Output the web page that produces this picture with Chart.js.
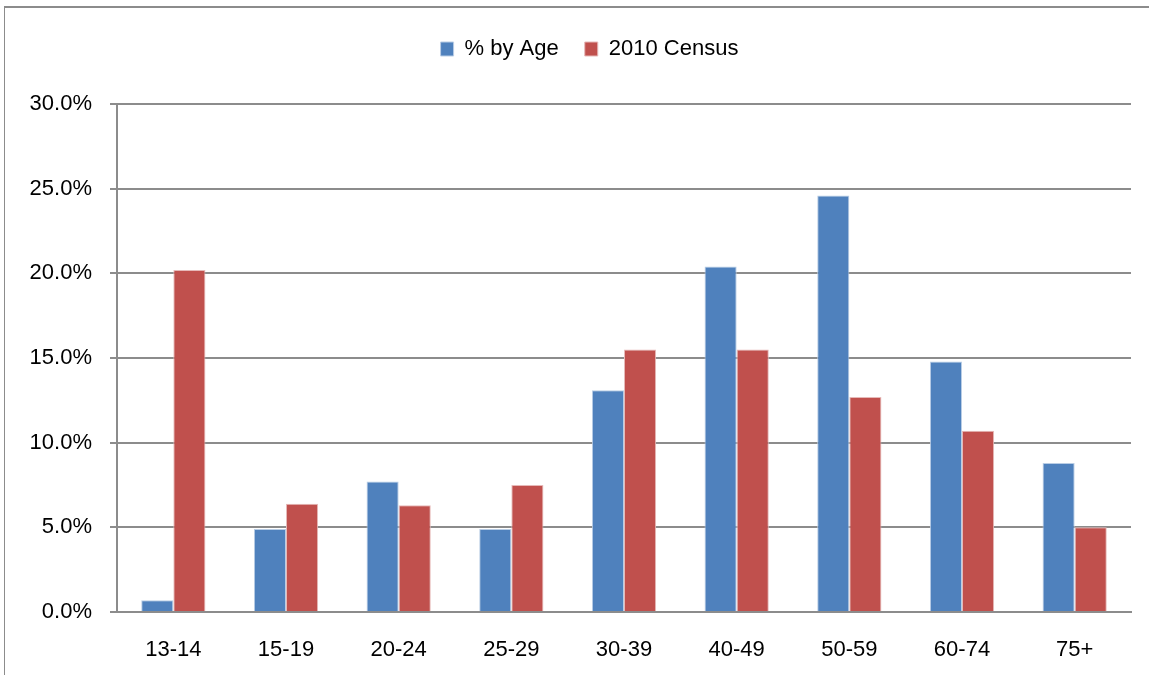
<!DOCTYPE html>
<html>
<head>
<meta charset="utf-8">
<script src="https://cdn.jsdelivr.net/npm/chart.js@4"></script>
<style>
  html, body { margin: 0; padding: 0; background: #fff; }
  #wrap { position: relative; width: 1149px; height: 675px; overflow: hidden; }
  #frame { position: absolute; left: 4px; top: 6px; width: 1200px; height: 700px;
           border-top: 2px solid #8c8c8c; border-left: 1px solid #8c8c8c; }
  canvas { position: absolute; left: 0; top: 0; }
</style>
</head>
<body>
<div id="wrap">
  <div id="frame"></div>
  <canvas id="dataChart" width="1149" height="675"></canvas>
</div>
<script>
// age groups and the two series (percent)
const ageGroups = ['13-14', '15-19', '20-24', '25-29', '30-39', '40-49', '50-59', '60-74', '75+'];
const byAge = [0.7, 4.9, 7.7, 4.9, 13.1, 20.4, 24.6, 14.8, 8.8];
const census2010 = [20.2, 6.4, 6.3, 7.5, 15.5, 15.5, 12.7, 10.7, 5.0];
const yTicks = [0, 5, 10, 15, 20, 25, 30];

const fontFamily = '"Liberation Sans", Arial, sans-serif';
const gridColor = '#8c8c8c';

const ctx = document.getElementById('dataChart').getContext('2d');
const chart = new Chart(ctx, {
  type: 'bar',
  data: {
    labels: ageGroups,
    datasets: [
      {
        label: '% by Age',
        data: byAge,
        backgroundColor: '#4f81bd',
        borderColor: '#b9cde5',
        borderWidth: 1,
        barPercentage: 1,
        categoryPercentage: 0.57
      },
      {
        label: '2010 Census',
        data: census2010,
        backgroundColor: '#c0504d',
        borderColor: '#e6b9b8',
        borderWidth: 1,
        barPercentage: 1,
        categoryPercentage: 0.57
      }
    ]
  },
  options: {
    responsive: false,
    animation: false,
    layout: { padding: { left: 0, right: 18, top: 12, bottom: 0 } },
    plugins: {
      tooltip: { enabled: false },
      legend: {
        display: true,
        position: 'top',
        labels: {
          color: '#000',
          font: { family: fontFamily, size: 22 },
          boxWidth: 13,
          boxHeight: 14,
          padding: 26,
          useBorderRadius: false
        }
      }
    },
    scales: {
      x: {
        afterFit: scale => { scale.height = 63; },
        grid: { display: false, drawTicks: false },
        border: { display: true, color: gridColor, width: 2 },
        ticks: { color: '#000', font: { family: fontFamily, size: 22 }, padding: 25 }
      },
      y: {
        min: 0,
        max: 30,
        afterFit: scale => { scale.width = 117; },
        afterBuildTicks: scale => { scale.ticks = yTicks.map(v => ({ value: v })); },
        grid: { color: gridColor, lineWidth: 2, tickLength: 7 },
        border: { display: true, color: gridColor, width: 2 },
        ticks: {
          color: '#000',
          font: { family: fontFamily, size: 22 },
          padding: 18,
          callback: value => value.toFixed(1) + '%'
        }
      }
    }
  },
  plugins: [{
    id: 'legendGap',
    beforeInit(chart) {
      const legend = chart.legend;
      const origFit = legend.fit;
      legend.fit = function () {
        origFit.call(this);
        this.height += 34;
      };
      // the original legend sits a bit right of centre
      const origDraw = legend.draw;
      legend.draw = function () {
        chart.ctx.save();
        chart.ctx.translate(24, 0);
        origDraw.call(this);
        chart.ctx.restore();
      };
    }
  }]
});
console.log('chart area', chart.chartArea);
</script>
</body>
</html>
